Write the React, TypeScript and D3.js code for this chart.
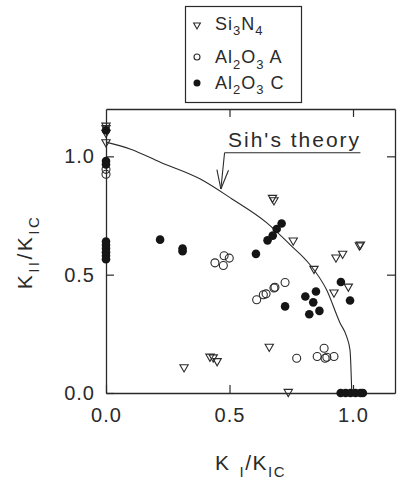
import { useRef, useEffect } from 'react';
import * as d3 from 'd3';

// Si3N4 (open down-triangles)
const si3n4K1 = [0, 0, 0, 0, 0.674, 0.68, 0.758, 1.026, 1.03, 0.931, 0.958, 0.842, 0.981, 0.923, 0.661, 0.421, 0.434, 0.45, 0.316, 0.738];
const si3n4K2 = [1.13, 1.12, 1.10, 1.06, 0.825, 0.815, 0.645, 0.624, 0.628, 0.573, 0.589, 0.525, 0.45, 0.425, 0.196, 0.154, 0.151, 0.135, 0.109, 0.005];

// Al2O3 A (open circles)
const alAK1 = [0, 0, 0.441, 0.478, 0.499, 0.475, 0.61, 0.637, 0.648, 0.68, 0.684, 0.725, 0.772, 0.855, 0.883, 0.887, 0.894, 0.923];
const alAK2 = [0.945, 0.924, 0.55, 0.58, 0.57, 0.539, 0.394, 0.415, 0.419, 0.444, 0.447, 0.467, 0.147, 0.154, 0.189, 0.147, 0.151, 0.154];

// Al2O3 C (filled circles)
const alCK1 = [0, 0, 0, 0, 0, 0, 0, 0, 0, 0.711, 0.691, 0.675, 0.654, 0.607, 0.951, 0.85, 0.807, 0.839, 0.725, 0.988, 0.864, 0.823, 0.219, 0.31, 0.31, 0.95, 0.97, 0.99, 1.01, 1.03, 1.04];
const alCK2 = [1.11, 0.98, 0.966, 0.64, 0.625, 0.61, 0.595, 0.58, 0.565, 0.716, 0.693, 0.665, 0.645, 0.588, 0.469, 0.429, 0.408, 0.383, 0.366, 0.391, 0.347, 0.333, 0.648, 0.61, 0.599, 0, 0, 0, 0, 0, 0];

// Sih's theory curve
const sihK1 = [0, 0.1, 0.22, 0.38, 0.51, 0.65, 0.745, 0.826, 0.893, 0.947, 0.974, 0.988, 0.995];
const sihK2 = [1.06, 1.03, 0.975, 0.905, 0.82, 0.72, 0.627, 0.542, 0.436, 0.297, 0.239, 0.18, 0];

const tickVals = [0, 0.5, 1.0];

export default function App() {
  const svgRef = useRef<SVGSVGElement>(null);

  useEffect(() => {
    const width = 400;
    const height = 487;
    const ink = '#2a2a2a';
    const font = '"Liberation Sans", Arial, sans-serif';

    const svg = d3.select(svgRef.current)
      .attr('width', width)
      .attr('height', height)
      .html('');

    const x = d3.scaleLinear().domain([0, 1.17]).range([106, 395]);
    const y = d3.scaleLinear().domain([0, 1.2]).range([393, 109]);

    // 軸 (inward ticks on all four sides)
    const fmt = d3.format('.1f');
    const styleAxis = (g) => {
      g.select('.domain').attr('stroke', ink).attr('stroke-width', 1.3);
      g.selectAll('.tick line').attr('stroke', ink).attr('stroke-width', 1.2);
      g.selectAll('.tick text')
        .attr('fill', ink)
        .attr('font-family', font)
        .attr('font-size', 20)
        .attr('letter-spacing', 1);
    };

    svg.append('g')
      .attr('transform', `translate(0,${y(0)})`)
      .call(d3.axisBottom(x).tickValues(tickVals).tickFormat(fmt).tickSize(-8).tickSizeOuter(0).tickPadding(15))
      .call(styleAxis)
      .attr('font-family', font);

    svg.append('g')
      .attr('transform', `translate(${x(0)},0)`)
      .call(d3.axisLeft(y).tickValues(tickVals).tickFormat(fmt).tickSize(-8).tickSizeOuter(0).tickPadding(11))
      .call(styleAxis);

    svg.append('g')
      .attr('transform', `translate(0,${y(1.2)})`)
      .call(d3.axisTop(x).tickValues([0.5, 1.0]).tickFormat(() => '').tickSize(-8).tickSizeOuter(0))
      .call(styleAxis);

    svg.append('g')
      .attr('transform', `translate(${x(1.17)},0)`)
      .call(d3.axisRight(y).tickValues([0.5, 1.0]).tickFormat(() => '').tickSize(-8).tickSizeOuter(0))
      .call(styleAxis);

    // Sih's theory
    const line = d3.line<number>()
      .x((d, i) => x(sihK1[i]))
      .y((d, i) => y(sihK2[i]))
      .curve(d3.curveMonotoneX);

    svg.append('path')
      .datum(sihK2)
      .attr('d', line)
      .attr('fill', 'none')
      .attr('stroke', ink)
      .attr('stroke-width', 1.1);

    // 注釈 (callout)
    svg.append('text')
      .attr('x', x(0.494))
      .attr('y', y(1.04))
      .attr('font-family', font)
      .attr('font-size', 21)
      .attr('letter-spacing', 2)
      .attr('fill', ink)
      .text("Sih's theory");

    const callout = [
      [[0.48, 1.015], [1.03, 1.015]],
      [[0.48, 1.015], [0.465, 0.862]],
      [[0.465, 0.862], [0.449, 0.944]],
      [[0.465, 0.862], [0.496, 0.941]]
    ];
    svg.append('g')
      .selectAll('line')
      .data(callout)
      .enter()
      .append('line')
      .attr('x1', d => x(d[0][0]))
      .attr('y1', d => y(d[0][1]))
      .attr('x2', d => x(d[1][0]))
      .attr('y2', d => y(d[1][1]))
      .attr('stroke', ink)
      .attr('stroke-width', 1.1);

    // マーカー
    const tri = d3.symbol().type(d3.symbolTriangle).size(30)();
    const triSmall = d3.symbol().type(d3.symbolTriangle).size(20)();

    svg.append('g')
      .selectAll('path')
      .data(si3n4K2)
      .enter()
      .append('path')
      .attr('d', tri)
      .attr('transform', (d, i) => `translate(${x(si3n4K1[i])},${y(d)}) rotate(180)`)
      .attr('fill', 'none')
      .attr('stroke', ink)
      .attr('stroke-width', 1.1);

    svg.append('g')
      .selectAll('circle')
      .data(alAK2)
      .enter()
      .append('circle')
      .attr('cx', (d, i) => x(alAK1[i]))
      .attr('cy', d => y(d))
      .attr('r', 4)
      .attr('fill', 'none')
      .attr('stroke', ink)
      .attr('stroke-width', 1.1);

    svg.append('g')
      .selectAll('circle')
      .data(alCK2)
      .enter()
      .append('circle')
      .attr('cx', (d, i) => x(alCK1[i]))
      .attr('cy', d => y(d))
      .attr('r', 4.3)
      .attr('fill', '#151515');

    // 凡例
    const lg = svg.append('g');
    lg.append('rect')
      .attr('x', 185.5)
      .attr('y', 6.5)
      .attr('width', 116)
      .attr('height', 96)
      .attr('fill', 'white')
      .attr('stroke', ink)
      .attr('stroke-width', 1.2);

    lg.append('path')
      .attr('d', triSmall)
      .attr('transform', 'translate(197,25) rotate(180)')
      .attr('fill', 'none')
      .attr('stroke', ink)
      .attr('stroke-width', 1.1);
    lg.append('circle').attr('cx', 197).attr('cy', 57).attr('r', 3).attr('fill', 'none').attr('stroke', ink).attr('stroke-width', 1.1);
    lg.append('circle').attr('cx', 197).attr('cy', 83).attr('r', 3.5).attr('fill', '#151515');

    const subText = (g, xx, yy, parts, size, subSize, spacing) => {
      const t = g.append('text')
        .attr('x', xx)
        .attr('y', yy)
        .attr('font-family', font)
        .attr('font-size', size)
        .attr('letter-spacing', spacing)
        .attr('fill', ink);
      let prevSub = false;
      parts.forEach(([s, sub, dx]) => {
        const shift = sub === prevSub ? 0 : (sub ? subSize * 0.45 : -subSize * 0.45);
        t.append('tspan')
          .attr('dy', shift)
          .attr('dx', dx || 0)
          .attr('font-size', sub ? subSize : size)
          .text(s);
        prevSub = sub;
      });
      return t;
    };

    subText(lg, 215, 29.5, [['Si', false], ['3', true], ['N', false], ['4', true]], 18, 13, 1);
    subText(lg, 215, 63, [['Al', false], ['2', true], ['O', false], ['3', true], [' A', false]], 18, 13, 1);
    subText(lg, 215, 88.5, [['Al', false], ['2', true], ['O', false], ['3', true], [' C', false]], 18, 13, 1);

    // 軸ラベル
    subText(svg, 215, 470, [['K', false], ['I', true, 9], ['/K', false], ['IC', true]], 21, 15, 1.5);

    const yl = subText(svg, 0, 0, [['K', false], ['II', true], ['/K', false], ['IC', true]], 21, 15, 2.5);
    yl.attr('text-anchor', 'middle')
      .attr('transform', 'translate(32,252) rotate(-90)');
  }, []);

  return (
    <svg ref={svgRef} style={{ position: 'absolute', left: 0, top: 0, background: 'white' }}></svg>
  );
}
